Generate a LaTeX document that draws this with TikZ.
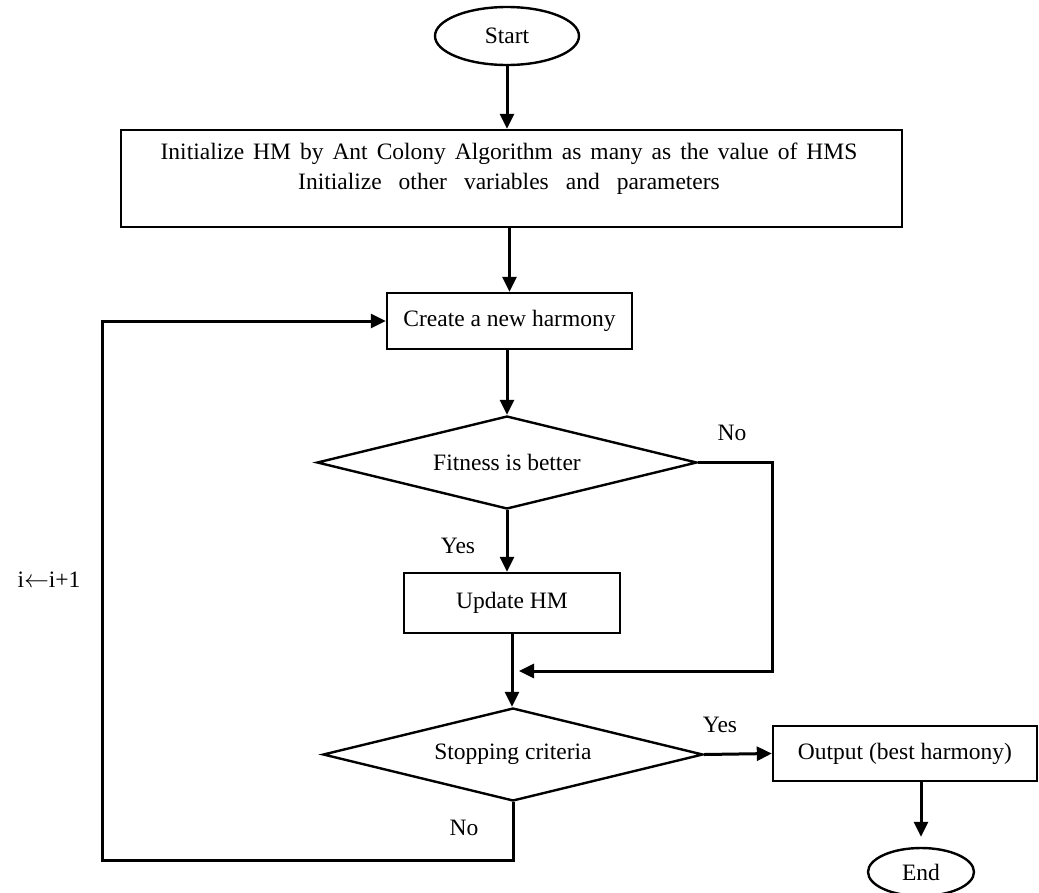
\documentclass[tikz,border=0pt]{standalone}
\usepackage{fontspec}
\setmainfont{Liberation Serif}
\usetikzlibrary{shapes.geometric,arrows.meta}
\begin{document}
\begin{tikzpicture}[x=1pt,y=-1pt,
  font=\fontsize{23.5}{28}\selectfont,
  box/.style={draw,line width=2.4pt,rectangle,inner sep=0pt},
  term/.style={draw,line width=2.4pt,ellipse,inner sep=0pt},
  dec/.style={draw,line width=2.4pt,diamond,inner sep=0pt,aspect=4.1},
  arr/.style={line width=3pt,-{Triangle[length=15pt,width=14pt]}},
  lab/.style={inner sep=0pt}]
\useasboundingbox (0,0) rectangle (1039,892);

\node[term, minimum width=144, minimum height=58] (start) at (507,36) {Start};
\node[box, minimum width=781, minimum height=97] (init) at (511.5,178.5) {};
\node[lab, align=center] (initText) at (509,169)
  {{\spaceskip=9pt Initialize HM by Ant Colony Algorithm as many as the value of HMS}\\[2pt]
   {\spaceskip=17pt Initialize other variables and parameters}};
\node[box, minimum width=245, minimum height=56] (create) at (509.5,321) {Create a new harmony};
\node[dec, minimum width=380, minimum height=93] (fit) at (507,462.5) {Fitness is better};
\node[box, minimum width=216, minimum height=60] (upd) at (512,603) {Update HM};
\node[dec, minimum width=380, minimum height=93] (stop) at (513,754.5) {Stopping criteria};
\node[box, minimum width=264, minimum height=55] (out) at (905,753.5) {Output (best harmony)};
\node[term, minimum width=106, minimum height=48] (end) at (921,872) {End};

\coordinate (merge) at (519,671);

\draw[arr] (start.south) -- (start.south |- init.north);
\draw[arr] (create |- init.south) -- (create.north);
\draw[arr] (create.south -| fit) -- (fit.north);
\draw[arr] (fit.south) -- (fit.south |- upd.north);
\draw[arr] (upd.south) -- (upd.south |- stop.north);
\draw[arr] (fit.east) -- ++(74,0) |- (merge);
\draw[arr] (stop.east) -- (out.west);
\draw[arr] (stop.south) -- ++(0,58) -| ([xshift=-283pt]create.west) -- (create.west);
\draw[arr, shorten >=10pt] (end |- out.south) -- (end.north);

\node[lab] (noA) at (732,433) {No};
\node[lab] (yesA) at (458,546) {Yes};
\node[lab] (yesB) at (720,725) {Yes};
\node[lab] (noB) at (464,828) {No};
\node[lab] (iter) at (49,580) {i$\leftarrow$i+1};
\end{tikzpicture}
\end{document}
